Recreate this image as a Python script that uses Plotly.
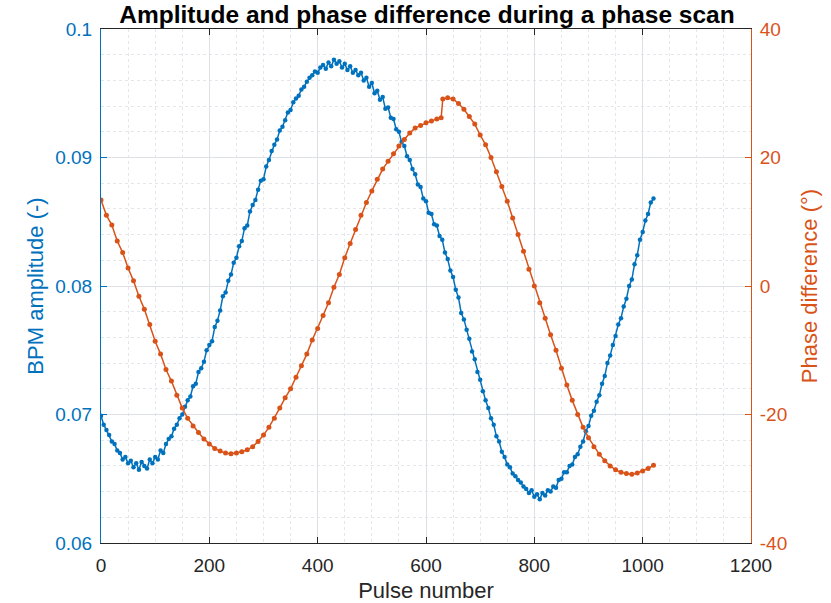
import plotly.graph_objects as go

# ---- data ----
pulse_amp = list(range(0, 1021, 5))
amplitude = [
    0.0699, 0.0692, 0.0688, 0.0684, 0.0679, 0.0677, 0.0672, 0.0670, 0.0665, 0.0667,
    0.0662, 0.0664, 0.0659, 0.0662, 0.0657, 0.0663, 0.0660, 0.0658, 0.0665, 0.0662,
    0.0667, 0.0665, 0.0672, 0.0670, 0.0677, 0.0681, 0.0683, 0.0689, 0.0692, 0.0697,
    0.0700, 0.0706, 0.0711, 0.0714, 0.0722, 0.0724, 0.0733, 0.0736, 0.0741, 0.0750,
    0.0754, 0.0757, 0.0768, 0.0773, 0.0781, 0.0792, 0.0795, 0.0804, 0.0809, 0.0818,
    0.0822, 0.0831, 0.0835, 0.0845, 0.0847, 0.0858, 0.0863, 0.0867, 0.0875, 0.0882,
    0.0883, 0.0893, 0.0898, 0.0905, 0.0910, 0.0914, 0.0921, 0.0924, 0.0929, 0.0935,
    0.0937, 0.0943, 0.0946, 0.0948, 0.0953, 0.0955, 0.0959, 0.0962, 0.0964, 0.0967,
    0.0966, 0.0970, 0.0972, 0.0969, 0.0974, 0.0971, 0.0976, 0.0973, 0.0975, 0.0970,
    0.0973, 0.0968, 0.0971, 0.0966, 0.0968, 0.0964, 0.0966, 0.0960, 0.0962, 0.0955,
    0.0958, 0.0950, 0.0952, 0.0945, 0.0947, 0.0938, 0.0939, 0.0931, 0.0930, 0.0922,
    0.0920, 0.0912, 0.0909, 0.0901, 0.0898, 0.0891, 0.0887, 0.0879, 0.0877, 0.0868,
    0.0866, 0.0857, 0.0856, 0.0848, 0.0847, 0.0839, 0.0836, 0.0826, 0.0821, 0.0812,
    0.0807, 0.0797, 0.0791, 0.0779, 0.0774, 0.0766, 0.0759, 0.0749, 0.0743, 0.0733,
    0.0727, 0.0718, 0.0711, 0.0705, 0.0697, 0.0692, 0.0683, 0.0679, 0.0671, 0.0667,
    0.0661, 0.0659, 0.0654, 0.0652, 0.0649, 0.0647, 0.0644, 0.0642, 0.0639, 0.0641,
    0.0636, 0.0638, 0.0634, 0.0639, 0.0637, 0.0641, 0.0640, 0.0644, 0.0643, 0.0649,
    0.0650, 0.0655, 0.0655, 0.0660, 0.0661, 0.0667, 0.0669, 0.0675, 0.0679, 0.0687,
    0.0691, 0.0699, 0.0703, 0.0710, 0.0715, 0.0724, 0.0730, 0.0740, 0.0746, 0.0754,
    0.0761, 0.0770, 0.0775, 0.0784, 0.0790, 0.0800, 0.0805, 0.0817, 0.0824, 0.0836,
    0.0842, 0.0851, 0.0856, 0.0865, 0.0868,
]

pulse_phase = [
    0, 10, 20, 30, 40, 50, 60, 70, 80, 90, 100, 110, 120, 130, 140, 150, 160, 170,
    180, 190, 200, 210, 220, 230, 240, 250, 260, 270, 280, 290, 300, 310, 320, 330,
    340, 350, 360, 370, 380, 390, 400, 410, 420, 430, 440, 450, 460, 470, 480, 490,
    500, 510, 520, 530, 540, 550, 560, 570, 580, 590, 600, 610, 620, 628, 631, 640,
    650, 660, 670, 680, 690, 700, 710, 720, 730, 740, 750, 760, 770, 780, 790, 800,
    810, 820, 830, 840, 850, 860, 870, 880, 890, 900, 910, 920, 930, 940, 950, 960,
    970, 980, 990, 1000, 1010, 1020,
]
phase = [
    13.4, 11.0, 9.5, 7.0, 5.2, 2.8, 0.8, -1.6, -3.6, -6.0, -8.6, -10.6, -13.0, -14.8,
    -17.0, -19.0, -20.6, -21.8, -22.8, -23.8, -24.6, -25.3, -25.7, -26.0, -26.1, -26.0,
    -25.8, -25.5, -25.0, -24.2, -23.2, -22.0, -20.6, -19.0, -17.4, -16.0, -14.2, -12.4,
    -10.6, -8.4, -6.6, -4.6, -2.6, -0.2, 1.8, 4.4, 6.6, 8.8, 11.0, 13.0, 14.8, 16.6,
    18.2, 19.4, 20.6, 21.8, 22.8, 23.8, 24.6, 25.0, 25.4, 25.7, 26.0, 26.2, 29.1, 29.3,
    29.1, 28.4, 27.5, 26.4, 25.2, 23.5, 22.0, 20.0, 17.8, 15.5, 13.2, 10.6, 8.0, 5.4,
    2.6, 0.0, -2.6, -5.0, -7.6, -10.0, -12.8, -15.4, -17.8, -20.0, -22.0, -23.6, -25.0,
    -26.2, -27.2, -28.0, -28.6, -29.0, -29.2, -29.3, -29.1, -28.8, -28.4, -27.9,
]

amp_ticks = [0.06, 0.07, 0.08, 0.09, 0.1]
amp_ticktext = ["0.06", "0.07", "0.08", "0.09", "0.1"]
phase_ticks = [-40, -20, 0, 20, 40]
phase_ticktext = ["-40", "-20", "0", "20", "40"]
x_ticks = [0, 200, 400, 600, 800, 1000, 1200]

BLUE = "#0072BD"
ORANGE = "#D95319"
DARK = "#262626"
FONT = "Liberation Sans, Arial, sans-serif"

fig = go.Figure()
fig.add_trace(go.Scatter(
    x=pulse_amp, y=amplitude, mode="lines+markers",
    line=dict(color=BLUE, width=1.5), marker=dict(color=BLUE, size=4.5),
    yaxis="y", showlegend=False,
))
fig.add_trace(go.Scatter(
    x=pulse_phase, y=phase, mode="lines+markers",
    line=dict(color=ORANGE, width=1.5), marker=dict(color=ORANGE, size=5),
    yaxis="y2", showlegend=False,
))

fig.update_layout(
    width=831, height=603,
    margin=dict(l=101, r=80, t=29, b=60, autoexpand=False),
    paper_bgcolor="white", plot_bgcolor="white",
    font=dict(family=FONT, size=19, color=DARK),
    title=dict(text="<b>Amplitude and phase difference during a phase scan</b>",
               x=427 / 831, xref="container", xanchor="center",
               y=1 - 14 / 603, yref="container", yanchor="middle",
               font=dict(size=24.5, color="black")),
    xaxis=dict(
        range=[0, 1200], tickvals=x_ticks, ticks="inside", ticklen=6,
        tickcolor=DARK, showline=True, linecolor=DARK, linewidth=1,
        mirror=False, zeroline=False, automargin=False,
        showgrid=True, gridcolor="#dde1e6", gridwidth=1,
        minor=dict(dtick=50, showgrid=True, gridcolor="#e3e7eb", griddash="dot", ticks=""),
        title=dict(text="Pulse number", font=dict(size=22, color=DARK), standoff=10),
        tickfont=dict(size=19, color=DARK), ticklabelstandoff=5,
    ),
    xaxis2=dict(
        range=[0, 1200], overlaying="x", side="top", tickvals=x_ticks,
        ticks="inside", ticklen=6, tickcolor=DARK, showticklabels=False,
        showline=True, linecolor=DARK, linewidth=1, showgrid=False, zeroline=False,
    ),
    yaxis=dict(
        range=[0.06, 0.1], tickvals=amp_ticks, ticktext=amp_ticktext,
        ticks="inside", ticklen=6, tickcolor=BLUE, automargin=False,
        showline=True, linecolor=BLUE, linewidth=1, zeroline=False,
        showgrid=True, gridcolor="#dde1e6", gridwidth=1,
        minor=dict(dtick=0.002, showgrid=True, gridcolor="#e3e7eb", griddash="dot", ticks=""),
        tickfont=dict(size=19, color=BLUE), ticklabelstandoff=4,
        title=dict(text="BPM amplitude (-)", font=dict(size=22, color=BLUE), standoff=5),
    ),
    yaxis2=dict(
        range=[-40, 40], tickvals=phase_ticks, ticktext=phase_ticktext,
        overlaying="y", side="right",
        ticks="inside", ticklen=6, tickcolor=ORANGE, automargin=False,
        showline=True, linecolor=ORANGE, linewidth=1, zeroline=False, showgrid=False,
        tickfont=dict(size=19, color=ORANGE), ticklabelstandoff=4,
        title=dict(text="Phase difference (°)", font=dict(size=22, color=ORANGE), standoff=15),
    ),
)
# dummy trace so xaxis2 renders
fig.add_trace(go.Scatter(x=[None], y=[None], xaxis="x2", showlegend=False, hoverinfo="skip"))

fig.write_html("out.html")
